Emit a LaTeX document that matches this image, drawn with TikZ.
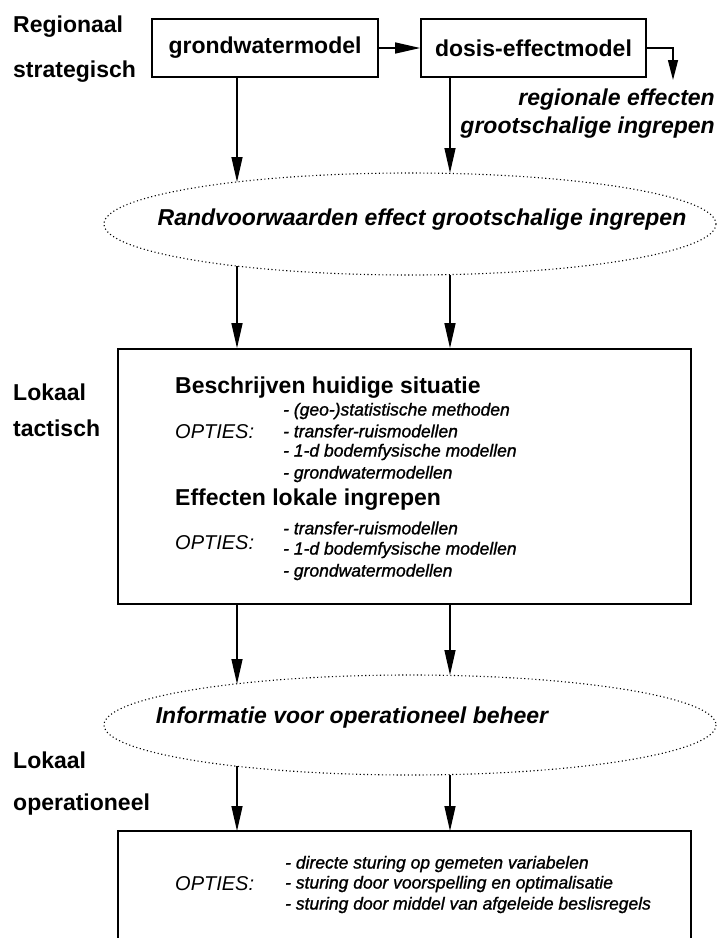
\documentclass[tikz,border=0pt]{standalone}
\usepackage{fontspec}
\setmainfont{Liberation Sans}
\newfontfamily\itemfont{Liberation Sans}[FakeBold=1.2]
\usetikzlibrary{arrows.meta}

\begin{document}
\begin{tikzpicture}[x=1pt, y=-1pt,
	arr/.style={line width=1.4pt, arrows={-{Triangle[length=25pt, width=11pt]}}},
	box/.style={draw, line width=1.7pt, inner sep=0pt},
	lbl/.style={anchor=west, inner sep=0pt, font=\fontsize{23}{27}\selectfont\bfseries},
	res/.style={anchor=east, inner sep=0pt, font=\fontsize{23}{27}\selectfont\bfseries\itshape},
	opt/.style={anchor=west, inner sep=0pt, font=\fontsize{20}{24}\selectfont\itshape},
	item/.style={anchor=west, inner sep=0pt, font=\fontsize{17.5}{21}\itemfont\itshape},
	dots/.style={line width=1.1pt, dash pattern=on 1.1pt off 2.6pt}]
	\useasboundingbox (0,0) rectangle (718,938);

	\coordinate (e1) at (410,224);
	\coordinate (e2) at (410,725);
	\coordinate (p1) at (237,182);
	\coordinate (p2) at (450,173);
	\coordinate (q1) at (237,266);
	\coordinate (q2) at (450,275);
	\coordinate (r1) at (237,684);
	\coordinate (r2) at (450,675);
	\coordinate (s1) at (237,766);
	\coordinate (s2) at (450,775);
	\coordinate (re) at (673,80);
	\coordinate (bl) at (118,831);
	\coordinate (br) at (691,831);

	\node [lbl] (reg) at (13,27) {Regionaal};
	\node [lbl] (str) at (13,72) {strategisch};
	\node [lbl] (lok) at (13,392) {Lokaal};
	\node [lbl] (tac) at (13,428) {tactisch};
	\node [lbl] (lokop) at (13,760) {Lokaal};
	\node [lbl] (ope) at (13,805) {operationeel};

	\node [box, minimum width=226pt, minimum height=58pt, font=\fontsize{23}{27}\selectfont\bfseries] (gwm) at (265,48) {grondwatermodel};
	\node [box, minimum width=225pt, minimum height=58pt, font=\fontsize{23}{27}\selectfont\bfseries] (dem) at (533.5,48) {dosis-effectmodel};
	\node [res] (reff) at (715,100) {regionale effecten};
	\node [res] (grin) at (715,128) {grootschalige ingrepen};

	\draw [dots] (e1) ellipse [x radius=306, y radius=51];
	\node [res, anchor=center] (rvw) at (422,220) {Randvoorwaarden effect grootschalige ingrepen};

	\node [box, minimum width=573pt, minimum height=255pt] (lokbox) at (404.5,476.5) {};
	\node [lbl] (bhs) at (175,388) {Beschrijven huidige situatie};
	\node [opt] (opt1) at (175,432) {OPTIES:};
	\node [item] (m1) at (283,411) {- (geo-)statistische methoden};
	\node [item] (m2) at (283,431) {- transfer-ruismodellen};
	\node [item] (m3) at (283,452) {- 1-d bodemfysische modellen};
	\node [item] (m4) at (283,474) {- grondwatermodellen};
	\node [lbl] (eli) at (175,500) {Effecten lokale ingrepen};
	\node [opt] (opt2) at (175,543) {OPTIES:};
	\node [item] (m5) at (283,528) {- transfer-ruismodellen};
	\node [item] (m6) at (283,550) {- 1-d bodemfysische modellen};
	\node [item] (m7) at (283,572) {- grondwatermodellen};

	\draw [dots] (e2) ellipse [x radius=306, y radius=50];
	\node [res, anchor=center] (iob) at (352,718) {Informatie voor operationeel beheer};

	\draw [line width=1.7pt] (118,950) -- (bl) -- (br) -- (691,950);
	\node [opt] (opt3) at (175,884) {OPTIES:};
	\node [item] (b1) at (285,864) {- directe sturing op gemeten variabelen};
	\node [item] (b2) at (285,884) {- sturing door voorspelling en optimalisatie};
	\node [item] (b3) at (285,905) {- sturing door middel van afgeleide beslisregels};

	\draw [arr] (gwm) -- (dem);
	\draw [arr, arrows={-{Triangle[length=20pt, width=10pt]}}] (dem.east) -| (re);
	\draw [arr] (gwm.south -| p1) -- (p1);
	\draw [arr] (dem.south -| p2) -- (p2);
	\draw [arr] (q1) -- (q1 |- lokbox.north);
	\draw [arr] (q2) -- (q2 |- lokbox.north);
	\draw [arr] (lokbox.south -| r1) -- (r1);
	\draw [arr] (lokbox.south -| r2) -- (r2);
	\draw [arr] (s1) -- (s1 |- bl);
	\draw [arr] (s2) -- (s2 |- br);
\end{tikzpicture}
\end{document}
